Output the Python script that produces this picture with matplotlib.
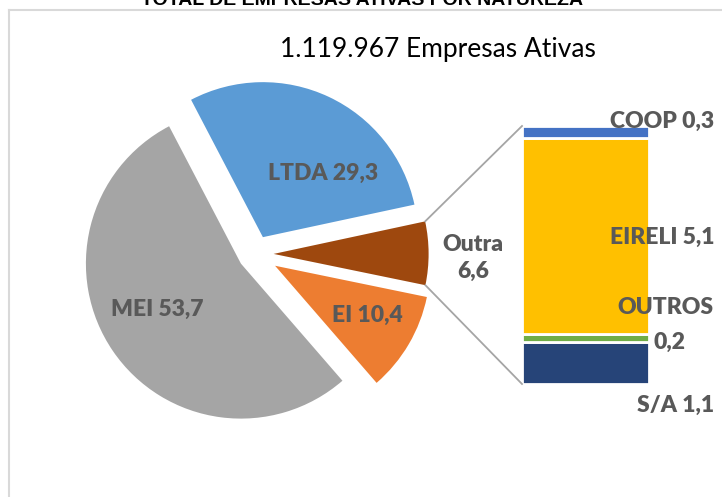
import numpy as np
import matplotlib.pyplot as plt
from matplotlib.lines import Line2D

# pie data (percent)
pie_labels = ['LTDA', 'Outra', 'EI', 'MEI']
pie_values = [29.3, 6.6, 10.4, 53.7]
pie_colors = ['#5B9BD5', '#9E480E', '#ED7D31', '#A5A5A5']
pie_explode = [0.12, 0.12, 0.15, 0.11]

# breakdown of "Outra" (top to bottom)
bar_labels = ['COOP', 'EIRELI', 'OUTROS', 'S/A']
bar_values = [0.3, 5.1, 0.2, 1.1]
bar_colors = ['#4472C4', '#FFC000', '#70AD47', '#264478']

W, H = 722, 497
LABEL_COLOR = '#595959'
plt.rcParams['font.family'] = ['Lato', 'DejaVu Sans']


def fmt(v):
    return f'{v:.1f}'.replace('.', ',')


def py(y):
    # pixel row (from top) -> data y
    return H - y


fig = plt.figure(figsize=(W / 100, H / 100), dpi=100)
ax = fig.add_axes([0, 0, 1, 1])

# pie
center = (255, py(254))
radius = 155
wedges, _ = ax.pie(pie_values, colors=pie_colors,
                   explode=[e * radius for e in pie_explode],
                   startangle=117.6, counterclock=False, radius=radius,
                   center=center, wedgeprops=dict(linewidth=0))

label_pos = [(323, 173), (473, 258), (367, 315), (157, 309)]
for lbl, v, (lx, ly) in zip(pie_labels, pie_values, label_pos):
    txt = f'{lbl} {fmt(v)}' if lbl != 'Outra' else f'{lbl}\n{fmt(v)}'
    ax.text(lx, py(ly), txt, ha='center', va='center', fontsize=16.5,
            fontweight='heavy', color=LABEL_COLOR, linespacing=1.3)

# stacked bar for "Outra"
bar_x, bar_w = 585.5, 127
bar_bottom = py(384)
scale = 258 / sum(bar_values)
bottom = bar_bottom
stack = []
for lbl, v, c in reversed(list(zip(bar_labels, bar_values, bar_colors))):
    h = v * scale
    ax.bar(bar_x, h, width=bar_w, bottom=bottom, color=c,
           edgecolor='white', linewidth=2)
    stack.append((lbl, v, bottom, h))
    bottom += h
bar_top = bottom

# connector lines from the "Outra" wedge
wo = wedges[1]
for ang, by in [(wo.theta2, bar_top), (wo.theta1, bar_bottom)]:
    cx, cy = wo.center
    x0 = cx + wo.r * np.cos(np.radians(ang))
    y0 = cy + wo.r * np.sin(np.radians(ang))
    ax.add_line(Line2D([x0, bar_x - bar_w / 2], [y0, by],
                       color='#A5A5A5', linewidth=1.3))

# bar labels
right = 714
lab = {l: v for l, v, b, h in stack}
kw = dict(fontsize=16.5, fontweight='heavy', color=LABEL_COLOR, va='center')
ax.text(right, py(121), f'COOP {fmt(lab["COOP"])}', ha='right', **kw)
ax.text(right, py(237), f'EIRELI {fmt(lab["EIRELI"])}', ha='right', **kw)
ax.text(right, py(308), 'OUTROS', ha='right', **kw)
ax.text(654, py(342), fmt(lab['OUTROS']), ha='left', **kw)
ax.text(right, py(405), f'S/A {fmt(lab["S/A"])}', ha='right', **kw)

# titles
ax.text(362, py(5), 'TOTAL DE EMPRESAS ATIVAS POR NATUREZA', ha='center',
        va='baseline', fontsize=14, fontweight='bold', color='black',
        family=['Liberation Sans', 'DejaVu Sans'])
ax.text(438, py(50), '1.119.967 Empresas Ativas', ha='center', va='center',
        fontsize=19, color='black')

# chart border
ax.add_line(Line2D([8.5, W], [py(9.5), py(9.5)], color='#D9D9D9', linewidth=1.5))
ax.add_line(Line2D([8.5, 8.5], [py(9.5), 0], color='#D9D9D9', linewidth=1.5))

ax.set_xlim(0, W)
ax.set_ylim(0, H)
ax.set_aspect('auto')
ax.axis('off')

plt.savefig('out.png', dpi=100)
